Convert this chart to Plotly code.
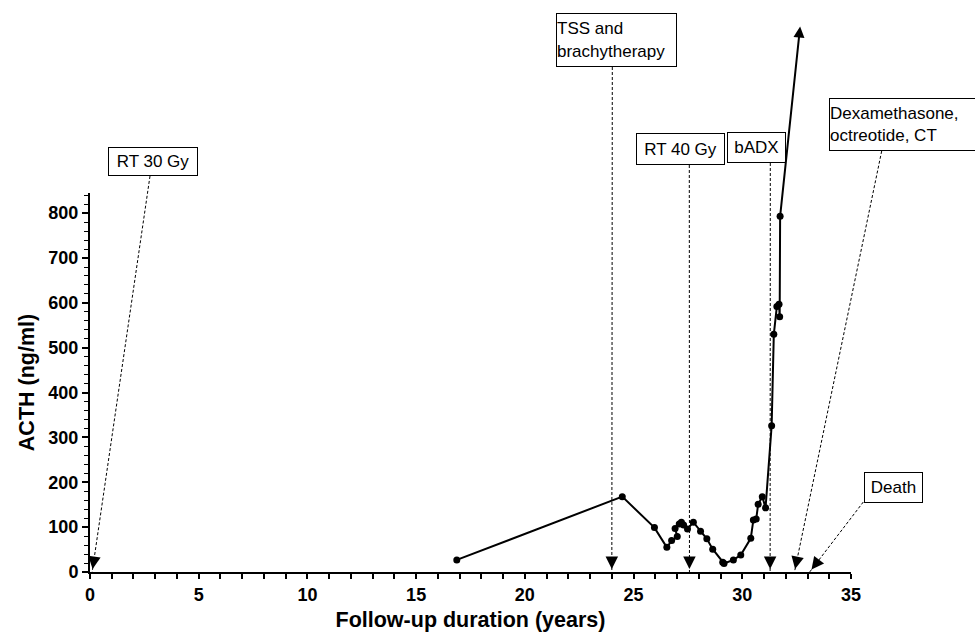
import math
import plotly.graph_objects as go

# ---------------- data ----------------
years = [16.87, 24.48, 25.96, 26.53, 26.75, 27.01, 26.91, 27.10, 27.20, 27.30,
         27.48, 27.75, 28.08, 28.37, 28.64, 29.10, 29.16, 29.59, 29.93, 30.39,
         30.51, 30.64, 30.73, 30.92, 31.07, 31.35, 31.45, 31.59, 31.69, 31.72,
         31.74]
acth = [27, 168, 99, 55, 70, 79, 97, 107, 111, 105,
        96, 111, 91, 74, 51, 22, 19, 27, 38, 75,
        116, 118, 151, 168, 143, 326, 530, 592, 597, 569,
        793]

event_labels = ["RT 30 Gy", "TSS and<br>brachytherapy", "RT 40 Gy", "bADX",
                "Dexamethasone,<br>octreotide, CT", "Death"]
event_years = [0.1, 24.0, 27.57, 31.28, 32.4, 33.1]

# continuation arrow (beyond the axis) from the last measurement
trend_tip = (32.66, 1216)

x_ticks = [0, 5, 10, 15, 20, 25, 30, 35]
y_ticks = [0, 100, 200, 300, 400, 500, 600, 700, 800]

# ---------------- layout geometry ----------------
FIG_W, FIG_H = 975, 632
ML, MR, MT, MB = 90, 124, 193, 60
PW = FIG_W - ML - MR
PH = FIG_H - MT - MB
X_RANGE = [0, 35]
Y_RANGE = [0, 845]

FONT = "Liberation Sans, Arial, Helvetica, sans-serif"


def px_to_paper(px, py):
    return (px - ML) / PW, (FIG_H - MB - py) / PH


def xdata_to_px(x):
    return ML + (x - X_RANGE[0]) / (X_RANGE[1] - X_RANGE[0]) * PW


def ydata_to_px(y):
    return FIG_H - MB - (y - Y_RANGE[0]) / (Y_RANGE[1] - Y_RANGE[0]) * PH


# label boxes: (left, top, right, bottom) in pixels, and the point where the
# dashed pointer leaves the box
boxes = [
    (108, 147, 198, 176),
    (556, 13, 677, 67),
    (636, 133, 725, 165),
    (727, 132, 786, 163),
    (829, 98, 982, 151),
    (864, 472, 923, 503),
]
starts = [
    (150, 176),
    (612.3, 67),
    (689.3, 165),
    (770.3, 163),
    (881.7, 151),
    (863.3, 502),
]

fig = go.Figure()

fig.add_trace(go.Scatter(
    x=years, y=acth, mode="lines+markers",
    line=dict(color="black", width=2),
    marker=dict(color="black", size=7),
    cliponaxis=False, showlegend=False, hoverinfo="x+y",
))

shapes = []
annotations = []
for lab, ey, box, st in zip(event_labels, event_years, boxes, starts):
    l, t, r, b = box
    cx, cy = px_to_paper((l + r) / 2, (t + b) / 2)
    multi = "<br>" in lab
    annotations.append(dict(
        xref="paper", yref="paper", x=cx, y=cy, xanchor="center", yanchor="middle",
        text=lab, showarrow=False, align="left" if multi else "center",
        font=dict(family=FONT, size=17, color="black"),
        bordercolor="black", borderwidth=1, borderpad=0, bgcolor="white",
        width=(r - l) - 2, height=(b - t) - 2,
    ))
    hx, hy = xdata_to_px(ey), ydata_to_px(0)
    sx, sy = st
    p0 = px_to_paper(sx, sy)
    p1 = px_to_paper(hx, hy)
    shapes.append(dict(type="line", xref="paper", yref="paper",
                       x0=p0[0], y0=p0[1], x1=p1[0], y1=p1[1],
                       line=dict(color="black", width=1, dash="3px,2px")))
    dx, dy = hx - sx, hy - sy
    n = math.hypot(dx, dy)
    L = 16
    annotations.append(dict(
        xref="x", yref="y", x=ey, y=0, text="", showarrow=True,
        ax=-dx / n * L, ay=-dy / n * L, axref="pixel", ayref="pixel",
        arrowhead=2, arrowsize=2.5, arrowwidth=1, arrowcolor="black", standoff=3,
    ))

# solid continuation arrow
annotations.append(dict(
    xref="x", yref="y", x=trend_tip[0], y=trend_tip[1], text="", showarrow=True,
    axref="x", ayref="y", ax=years[-1], ay=acth[-1],
    arrowhead=2, arrowsize=1.1, arrowwidth=2, arrowcolor="black", standoff=0,
))

fig.update_layout(
    width=FIG_W, height=FIG_H,
    margin=dict(l=ML, r=MR, t=MT, b=MB, autoexpand=False),
    paper_bgcolor="white", plot_bgcolor="white",
    font=dict(family=FONT, color="black"),
    shapes=shapes, annotations=annotations,
    showlegend=False,
)

fig.update_xaxes(
    range=X_RANGE, autorange=False, showgrid=False, zeroline=False,
    showline=True, linecolor="black", linewidth=2,
    ticks="outside", ticklen=5, tickwidth=1.5, tickcolor="black",
    tickvals=x_ticks, ticktext=[str(v) for v in x_ticks],
    tickfont=dict(family=FONT, size=18, color="black", weight="bold"),
    minor=dict(dtick=1, tick0=0, ticks="outside", ticklen=5, tickwidth=1.5,
               tickcolor="black", showgrid=False),
    title=dict(text="Follow-up duration (years)", standoff=8,
               font=dict(family=FONT, size=21.5, color="black", weight="bold")),
    automargin=False,
)
fig.update_yaxes(
    range=Y_RANGE, autorange=False, showgrid=False, zeroline=False,
    showline=True, linecolor="black", linewidth=2,
    ticks="outside", ticklen=6, tickwidth=1.5, tickcolor="black",
    tickvals=y_ticks, ticktext=[str(v) for v in y_ticks],
    tickfont=dict(family=FONT, size=18, color="black", weight="bold"),
    minor=dict(dtick=20, tick0=0, ticks="outside", ticklen=4, tickwidth=1.2,
               tickcolor="black", showgrid=False),
    title=dict(text="ACTH (ng/ml)", standoff=8,
               font=dict(family=FONT, size=21.5, color="black", weight="bold")),
    automargin=False,
)

fig.write_html(
    "out.html",
    config={"displayModeBar": False},
    post_script="document.body.style.margin='0';document.body.style.overflow='hidden';",
)
